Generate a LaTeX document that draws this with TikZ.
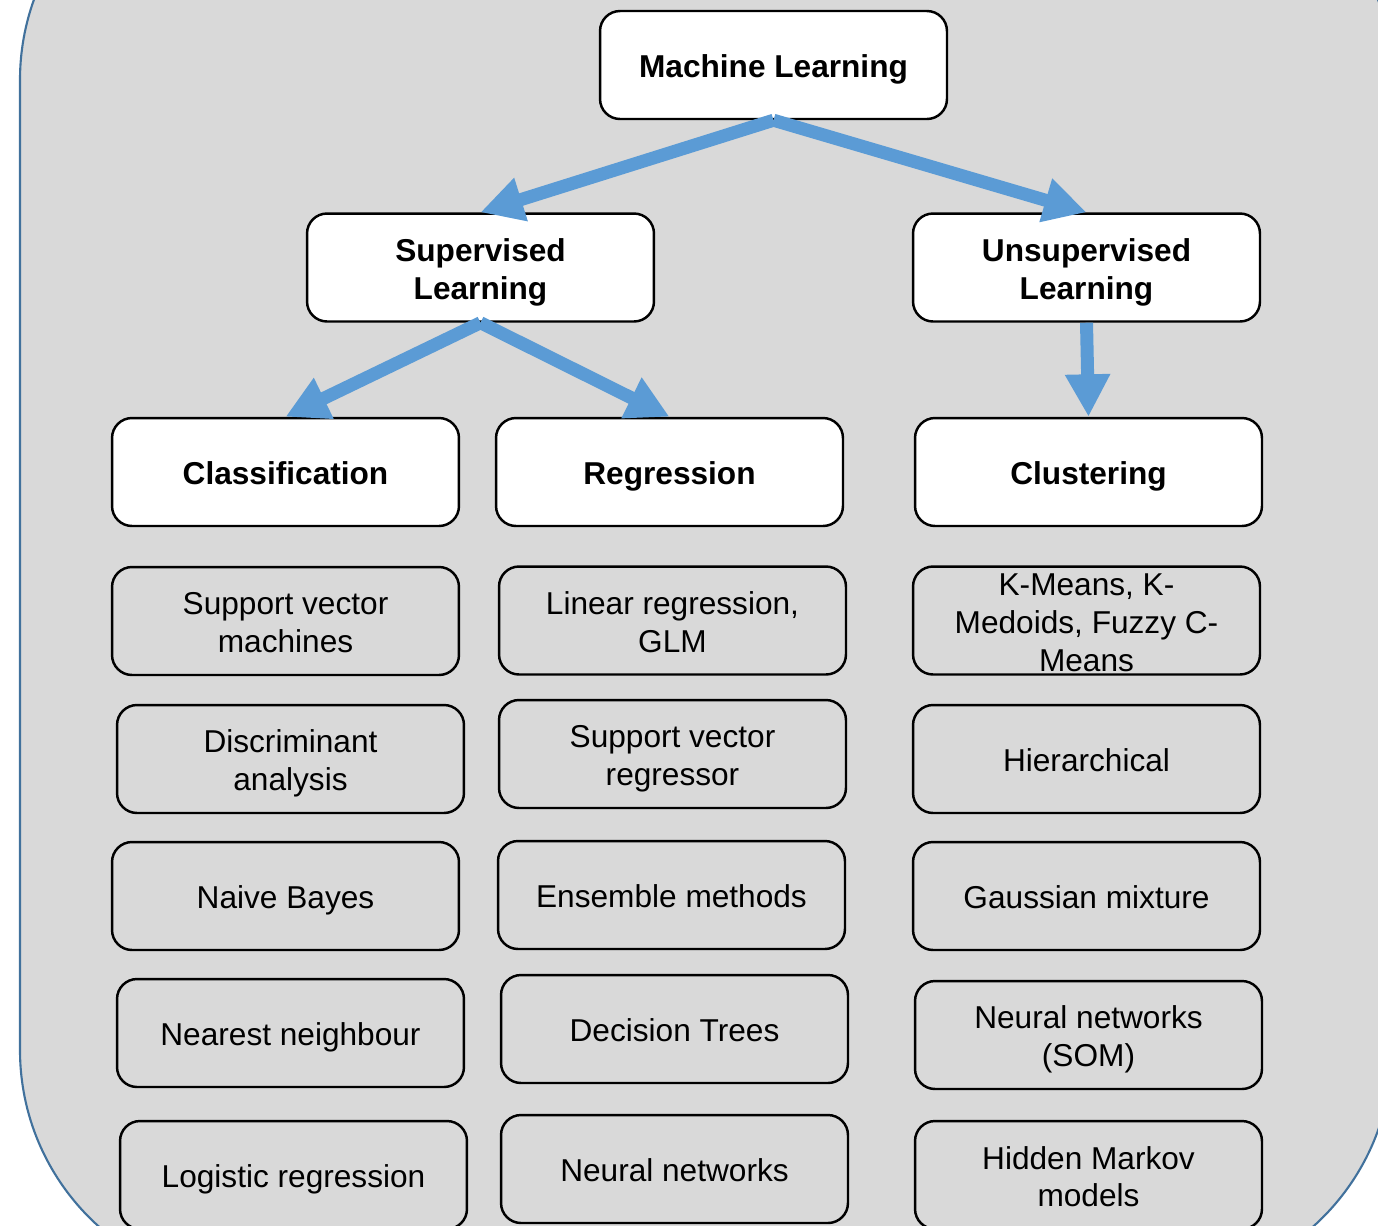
\documentclass[tikz,border=0pt]{standalone}
\usepackage{fontspec}
\setmainfont{Liberation Sans}
\usepackage{xcolor}
\usetikzlibrary{arrows.meta}

\definecolor{panelgray}{HTML}{D9D9D9}
\definecolor{panelblue}{HTML}{41719C}
\definecolor{arrowblue}{HTML}{5B9BD5}

\begin{document}
\begin{tikzpicture}[
    x=0.02cm, y=-0.02cm,
    panel/.style={draw=panelblue, line width=1.2pt, fill=panelgray, rounded corners=4.74cm},
    box/.style={rectangle, draw=black, line width=1.4pt, rounded corners=0.4cm, minimum width=6.94cm, minimum height=2.16cm, inner ysep=0pt, align=center,
        text height=18.56pt, text depth=3.82pt},
    twolines/.style={text height=40.16pt},
    threelines/.style={text height=59.7pt, text depth=1.5pt},
    head/.style={box, fill=white, font=\fontsize{18}{21.6}\selectfont\bfseries},
    method/.style={box, fill=panelgray, font=\fontsize{18}{21.6}\selectfont},
    arrow/.style={-{Triangle[length=0.85cm, width=0.85cm]}, line width=0.26cm, draw=arrowblue}
]
    \useasboundingbox (0,0) rectangle (1378,1225);
    \clip (0,0) rectangle (1378,1225);
    \draw[panel] (20,-157) rectangle (1392,1287);

    % top levels
    \node[head] (ml) at (773.5,65) {Machine Learning};
    \node[head, twolines] (sup) at (480.5,267.5) {Supervised\\Learning};
    \node[head, twolines] (unsup) at (1086.5,267.5) {Unsupervised\\Learning};
    \node[head] (classif) at (285.5,472) {Classification};
    \node[head] (regr) at (669.5,472) {Regression};
    \node[head] (clust) at (1088.5,472) {Clustering};

    % classification methods
    \node[method, twolines] (svm) at (285.5,621) {Support vector\\machines};
    \node[method, twolines] (disc) at (290.5,759) {Discriminant\\analysis};
    \node[method] (bayes) at (285.5,896) {Naive Bayes};
    \node[method] (knn) at (290.5,1033) {Nearest neighbour};
    \node[method] (logit) at (293.5,1175) {Logistic regression};

    % regression methods
    \node[method, twolines] (linreg) at (672.5,620.5) {Linear regression,\\GLM};
    \node[method, twolines] (svr) at (672.5,754) {Support vector\\regressor};
    \node[method] (ensemble) at (671.5,895) {Ensemble methods};
    \node[method] (tree) at (674.5,1029) {Decision Trees};
    \node[method] (nnet) at (674.5,1169) {Neural networks};

    % clustering methods
    \node[method, threelines] (kmeans) at (1086.5,620.5) {K-Means, K-\\Medoids, Fuzzy C-\\Means};
    \node[method] (hier) at (1086.5,759) {Hierarchical};
    \node[method] (gmm) at (1086.5,896) {Gaussian mixture};
    \node[method, twolines] (som) at (1088.5,1035) {Neural networks\\(SOM)};
    \node[method, twolines] (hmm) at (1088.5,1175) {Hidden Markov\\models};

    \draw[arrow] (ml.south) -- (sup.north);
    \draw[arrow] (ml.south) -- (unsup.north);
    \draw[arrow] (sup.south) -- (classif.north);
    \draw[arrow] (sup.south) -- (regr.north);
    \draw[arrow] (unsup.south) -- (clust.north);
\end{tikzpicture}
\end{document}
